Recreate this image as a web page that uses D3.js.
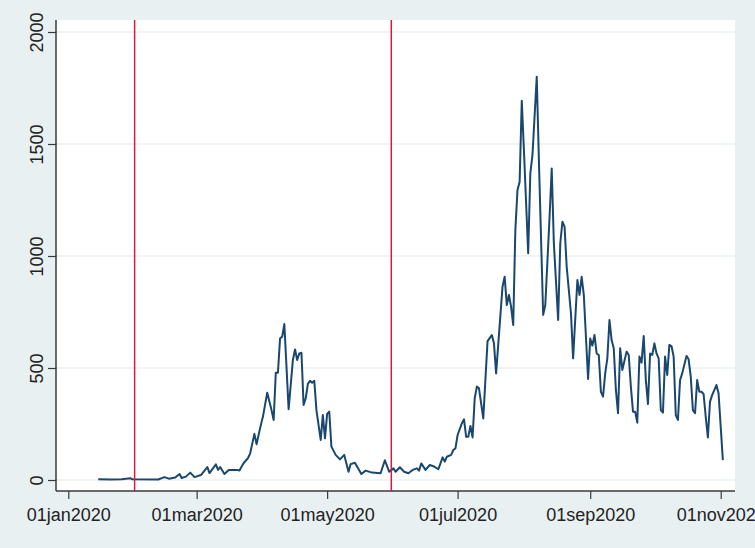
<!DOCTYPE html>
<html>
<head>
<meta charset="utf-8">
<script src="https://cdn.jsdelivr.net/npm/d3@7"></script>
<style>
  html, body { margin: 0; padding: 0; background: #e9f0f2; }
  svg { display: block; font-family: "Liberation Sans", Arial, sans-serif; }
</style>
</head>
<body>
<div id="chart"></div>
<script>
// daily counts (peaks and troughs)
const dates = [
  "2020-01-15","2020-01-21","2020-01-26","2020-01-30","2020-01-31","2020-02-12","2020-02-15","2020-02-17",
  "2020-02-20","2020-02-22","2020-02-23","2020-02-25","2020-02-27","2020-02-29","2020-03-03","2020-03-06",
  "2020-03-07","2020-03-10","2020-03-11","2020-03-12","2020-03-14","2020-03-16","2020-03-20","2020-03-21",
  "2020-03-23","2020-03-25","2020-03-26","2020-03-28","2020-03-29","2020-03-31","2020-04-01","2020-04-03",
  "2020-04-05","2020-04-06","2020-04-07","2020-04-08","2020-04-09","2020-04-10","2020-04-11","2020-04-13",
  "2020-04-15","2020-04-16","2020-04-17","2020-04-18","2020-04-19","2020-04-20","2020-04-21","2020-04-22",
  "2020-04-23","2020-04-24","2020-04-25","2020-04-26","2020-04-28","2020-04-29","2020-04-30","2020-05-01",
  "2020-05-02","2020-05-03","2020-05-05","2020-05-07","2020-05-09","2020-05-11","2020-05-12","2020-05-14",
  "2020-05-15","2020-05-17","2020-05-19","2020-05-22","2020-05-26","2020-05-28","2020-05-30","2020-06-01",
  "2020-06-02","2020-06-04","2020-06-06","2020-06-08","2020-06-10","2020-06-12","2020-06-13","2020-06-14",
  "2020-06-16","2020-06-18","2020-06-20","2020-06-22","2020-06-24","2020-06-25","2020-06-26","2020-06-28",
  "2020-06-29","2020-06-30","2020-07-01","2020-07-03","2020-07-04","2020-07-05","2020-07-06","2020-07-07",
  "2020-07-08","2020-07-09","2020-07-10","2020-07-11","2020-07-13","2020-07-15","2020-07-17","2020-07-18",
  "2020-07-19","2020-07-22","2020-07-23","2020-07-24","2020-07-25","2020-07-26","2020-07-27","2020-07-28",
  "2020-07-29","2020-07-30","2020-07-31","2020-08-01","2020-08-03","2020-08-04","2020-08-05","2020-08-07",
  "2020-08-08","2020-08-10","2020-08-11","2020-08-13","2020-08-14","2020-08-15","2020-08-17","2020-08-18",
  "2020-08-19","2020-08-20","2020-08-21","2020-08-23","2020-08-24","2020-08-26","2020-08-27","2020-08-28",
  "2020-08-29","2020-08-31","2020-09-01","2020-09-02","2020-09-03","2020-09-04","2020-09-05","2020-09-06",
  "2020-09-07","2020-09-08","2020-09-09","2020-09-10","2020-09-11","2020-09-12","2020-09-13","2020-09-14",
  "2020-09-15","2020-09-16","2020-09-18","2020-09-19","2020-09-20","2020-09-21","2020-09-22","2020-09-23",
  "2020-09-24","2020-09-25","2020-09-26","2020-09-27","2020-09-28","2020-09-29","2020-09-30","2020-10-01",
  "2020-10-02","2020-10-03","2020-10-04","2020-10-05","2020-10-06","2020-10-07","2020-10-08","2020-10-09",
  "2020-10-10","2020-10-11","2020-10-12","2020-10-13","2020-10-14","2020-10-16","2020-10-17","2020-10-18",
  "2020-10-19","2020-10-20","2020-10-21","2020-10-22","2020-10-23","2020-10-24","2020-10-25","2020-10-26",
  "2020-10-27","2020-10-28","2020-10-30","2020-10-31","2020-11-01","2020-11-02"
];
const cases = [
  3,2,3,8,3,2,13,6,
  11,27,9,15,33,13,22,58,
  31,70,45,58,27,45,45,42,
  76,98,118,206,160,245,283,390,
  312,268,479,479,632,640,696,316,
  536,583,536,565,568,335,365,429,
  443,434,443,312,179,290,186,295,
  305,149,112,92,112,37,71,77,
  60,27,42,33,30,88,37,52,
  37,57,37,30,45,52,42,74,
  45,67,60,48,101,82,104,112,
  134,141,201,253,271,193,193,241,
  190,365,417,409,275,620,647,610,
  476,863,907,781,826,774,692,1116,
  1295,1332,1693,1473,1012,1369,1451,1800,
  1429,737,781,1175,1391,1057,714,1057,
  1153,1131,952,744,543,893,826,907,
  826,451,632,600,647,565,558,394,
  372,476,543,714,625,588,402,298,
  588,491,573,558,417,305,305,256,
  551,524,643,446,339,565,558,610,
  565,543,312,301,551,469,603,598,
  551,290,268,446,476,554,539,461,
  312,298,446,394,394,384,283,190,
  350,379,424,387,238,89
];
const markerDates = ["2020-02-01", "2020-05-31"];
const xTickDates = ["2020-01-01", "2020-03-01", "2020-05-01", "2020-07-01", "2020-09-01", "2020-11-01"];
const yTicks = [0, 500, 1000, 1500, 2000];

const width = 755, height = 548;
const parse = d3.timeParse("%Y-%m-%d");
const fmt = d3.timeFormat("%d%b%Y");
const tickLabel = d => fmt(d).toLowerCase();

const data = dates.map((d, i) => ({ date: parse(d), value: cases[i] }));

const plot = { left: 56, right: 735, top: 20, bottom: 491 };

const x = d3.scaleTime()
  .domain([parse("2020-01-01"), parse("2020-11-01")])
  .range([68.3, 720.7]);
const y = d3.scaleLinear()
  .domain([0, 2000])
  .range([480, 32]);

const svg = d3.select("#chart").append("svg")
  .attr("width", width)
  .attr("height", height);

svg.append("rect")
  .attr("width", width).attr("height", height)
  .attr("fill", "#e9f0f2");

// plot region
svg.append("rect")
  .attr("x", plot.left).attr("y", plot.top)
  .attr("width", plot.right - plot.left)
  .attr("height", plot.bottom - plot.top)
  .attr("fill", "#ffffff");

// gridlines
svg.append("g").selectAll("line")
  .data(yTicks)
  .join("line")
  .attr("x1", plot.left).attr("x2", plot.right)
  .attr("y1", d => y(d)).attr("y2", d => y(d))
  .attr("stroke", "#eaf1f3")
  .attr("stroke-width", 1.5);

// y axis
const yAxis = svg.append("g")
  .attr("transform", `translate(${plot.left},0)`)
  .call(d3.axisLeft(y).tickValues(yTicks).tickSize(8).tickSizeOuter(0).tickFormat(d3.format("d")));
yAxis.select(".domain").remove();
yAxis.append("line")
  .attr("y1", plot.top).attr("y2", plot.bottom)
  .attr("stroke", "#3a3a3a").attr("stroke-width", 1.5);
yAxis.selectAll(".tick line").attr("stroke", "#3a3a3a").attr("stroke-width", 1.2);
yAxis.selectAll(".tick text")
  .attr("x", null).attr("dy", null)
  .attr("transform", "translate(-13,0) rotate(-90)")
  .attr("text-anchor", "middle")
  .attr("fill", "#222")
  .style("font-size", "18px")
  .style("font-family", "'Liberation Sans', Arial, sans-serif");

// x axis
const xAxis = svg.append("g")
  .attr("transform", `translate(0,${plot.bottom})`)
  .call(d3.axisBottom(x).tickValues(xTickDates.map(parse)).tickSize(8).tickSizeOuter(0).tickFormat(tickLabel));
xAxis.select(".domain").remove();
xAxis.append("line")
  .attr("x1", plot.left).attr("x2", plot.right)
  .attr("stroke", "#3a3a3a").attr("stroke-width", 1.5);
xAxis.selectAll(".tick line").attr("stroke", "#3a3a3a").attr("stroke-width", 1.2);
xAxis.selectAll(".tick text")
  .attr("y", 30).attr("dy", null)
  .attr("fill", "#222")
  .style("font-size", "18px")
  .style("font-family", "'Liberation Sans', Arial, sans-serif");

// series
const line = d3.line()
  .x(d => x(d.date))
  .y(d => y(d.value));

svg.append("path")
  .datum(data)
  .attr("d", line)
  .attr("fill", "none")
  .attr("stroke", "#1a476f")
  .attr("stroke-width", 2)
  .attr("stroke-linejoin", "round");

// event markers
svg.append("g").selectAll("line")
  .data(markerDates.map(parse))
  .join("line")
  .attr("x1", d => x(d)).attr("x2", d => x(d))
  .attr("y1", plot.top).attr("y2", plot.bottom)
  .attr("stroke", "#d01c3f")
  .attr("stroke-width", 1.5);
</script>
</body>
</html>
